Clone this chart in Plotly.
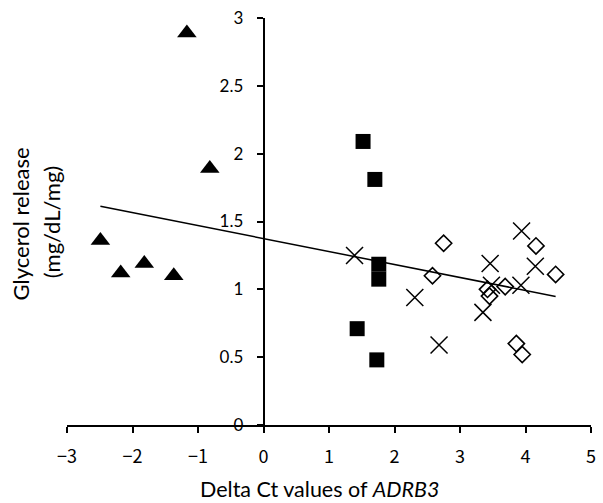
import plotly.graph_objects as go

# Data
tri_x = [-2.49, -2.18, -1.82, -1.37, -1.17, -0.82]
tri_y = [1.36, 1.12, 1.19, 1.10, 2.89, 1.89]

sq_x = [1.52, 1.70, 1.76, 1.76, 1.43, 1.73]
sq_y = [2.09, 1.81, 1.185, 1.075, 0.71, 0.48]

cross_x = [1.39, 2.31, 2.68, 3.35, 3.46, 3.48, 3.93, 3.94, 4.15]
cross_y = [1.25, 0.94, 0.59, 0.83, 1.19, 1.03, 1.03, 1.43, 1.17]

dia_x = [2.58, 2.75, 3.42, 3.45, 3.69, 3.86, 3.95, 4.16, 4.46]
dia_y = [1.10, 1.34, 1.00, 0.95, 1.02, 0.60, 0.52, 1.32, 1.11]

trend_x = [-2.49, 4.46]
trend_y = [1.612, 0.948]

x_ticks = [-3, -2, -1, 0, 1, 2, 3, 4, 5]
y_ticks = [0, 0.5, 1, 1.5, 2, 2.5, 3]
y_tick_text = ["0", "0.5", "1", "1.5", "2", "2.5", "3"]

fig = go.Figure()
fig.add_trace(go.Scatter(x=trend_x, y=trend_y, mode="lines",
                         line=dict(color="black", width=1.5), showlegend=False))
fig.add_trace(go.Scatter(x=tri_x, y=tri_y, mode="markers",
                         marker=dict(symbol="triangle-up", size=17, color="black"),
                         showlegend=False))
fig.add_trace(go.Scatter(x=sq_x, y=sq_y, mode="markers",
                         marker=dict(symbol="square", size=15, color="black"),
                         showlegend=False))
fig.add_trace(go.Scatter(x=cross_x, y=cross_y, mode="markers",
                         marker=dict(symbol="x-thin-open", size=17, color="black",
                                     line=dict(color="black", width=1.5)),
                         showlegend=False))
fig.add_trace(go.Scatter(x=dia_x, y=dia_y, mode="markers",
                         marker=dict(symbol="diamond-open", size=12.5, color="black",
                                     line=dict(color="black", width=1.6)),
                         showlegend=False))

L, R, T, B = 67, 7, 16, 78
W, H = 603, 503
pw, ph = W - L - R, H - T - B

def px2paper_x(px):
    return (px - L) / pw

def px2paper_y(py):
    return (H - B - py) / ph

fig.update_layout(
    width=W, height=H,
    margin=dict(l=L, r=R, t=T, b=B, pad=0),
    paper_bgcolor="white", plot_bgcolor="white",
    xaxis=dict(range=[-3, 5], tickvals=x_ticks, showgrid=False, zeroline=False,
               showline=True, linecolor="black", linewidth=1.6,
               ticks="outside", ticklen=6, tickwidth=1.5, tickcolor="black",
               tickfont=dict(family="Noto Sans CJK JP", size=18, color="black"),
               ticklabelstandoff=9),
    yaxis=dict(range=[0, 3], tickvals=y_ticks, ticktext=y_tick_text,
               showgrid=False, zeroline=False,
               anchor="free", position=3 / 8,
               showline=True, linecolor="black", linewidth=1.6,
               ticks="outside", ticklen=6, tickwidth=1.5, tickcolor="black",
               tickfont=dict(family="Lato", size=17, color="black"),
               ticklabelstandoff=10),
    annotations=[
        dict(text="Glycerol release", x=px2paper_x(21), y=px2paper_y(223),
             xref="paper", yref="paper", textangle=-90, showarrow=False,
             xanchor="center", yanchor="middle",
             font=dict(family="Lato", size=22, color="black")),
        dict(text="(mg/dL/mg)", x=px2paper_x(52), y=px2paper_y(221),
             xref="paper", yref="paper", textangle=-90, showarrow=False,
             xanchor="center", yanchor="middle",
             font=dict(family="Lato", size=22, color="black")),
        dict(text="Delta Ct values of <i>ADRB3</i>", x=px2paper_x(322), y=px2paper_y(489),
             xref="paper", yref="paper", showarrow=False,
             xanchor="center", yanchor="middle",
             font=dict(family="Lato", size=21.5, color="black")),
    ],
)

fig.write_html("out.html")
